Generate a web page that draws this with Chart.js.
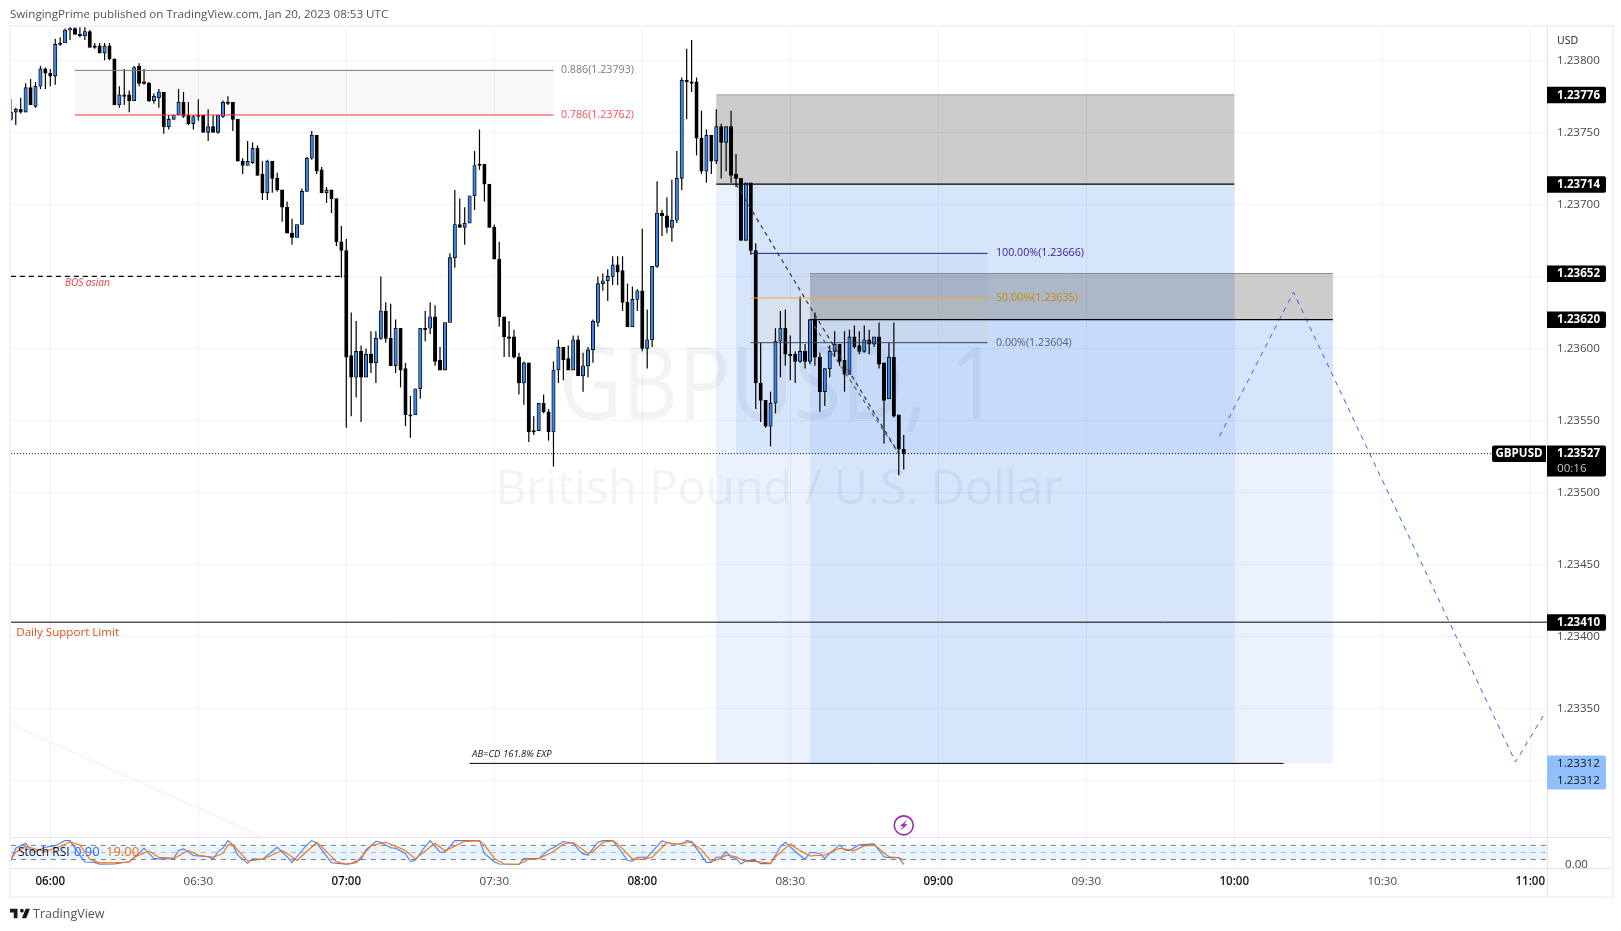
<!DOCTYPE html>
<html>
<head>
<meta charset="utf-8">
<title>GBPUSD 1</title>
<script src="https://cdn.jsdelivr.net/npm/chart.js@4"></script>
<style>
  html, body { margin: 0; padding: 0; background: #fff; width: 1621px; height: 931px; overflow: hidden; }
  body { font-family: "Open Sans", sans-serif; position: relative; }
  #frame { position: absolute; left: 9px; top: 25px; width: 1601px; height: 869px; border: 2px solid #f0f3fa; }
  #cv { position: absolute; left: 0; top: 0; }
  #pub { position: absolute; left: 10px; top: 6px; font-size: 11.6px; color: #50535e; white-space: nowrap; }
  #brand { position: absolute; left: 10px; top: 905px; color: #50535e; font-size: 12.5px; white-space: nowrap; }
  #brand svg { position: absolute; left: 0; top: 2px; }
  #brand span { position: absolute; left: 23px; top: 0; }
</style>
</head>
<body>
<div id="frame"></div>
<canvas id="cv" width="1621" height="931"></canvas>
<div id="pub">SwingingPrime published on TradingView.com, Jan 20, 2023 08:53 UTC</div>
<div id="brand">
  <svg width="20" height="13" viewBox="2 6 32 15"><path fill="#131722" d="M14 6H2v6h6v9h6V6zm14 15h-7l6-15h7l-6 15zm-7-9a3 3 0 1 0 0-6 3 3 0 0 0 0 6z"/></svg>
  <span>TradingView</span>
</div>
<script>
// -------------------------------------
// Candles, one per minute, x is minutes after 06:00
// -------------------------------------
const firstMinute = -8;

const open = [
  1.23759,1.23764,1.23766,1.23764,1.23781,1.23768,1.23782,1.23794,1.23791,1.23789,
  1.23812,1.23812,1.23821,1.23822,1.23818,1.23817,1.23820,1.23810,1.23810,1.23805,
  1.23810,1.23801,1.23769,1.23776,1.23776,1.23772,1.23796,1.23785,1.23784,1.23772,
  1.23774,1.23778,1.23754,1.23759,1.23762,1.23771,1.23762,1.23756,1.23762,1.23762,
  1.23750,1.23754,1.23750,1.23761,1.23771,1.23771,1.23759,1.23730,1.23727,1.23729,
  1.23739,1.23721,1.23708,1.23730,1.23718,1.23710,1.23698,1.23680,1.23677,1.23686,
  1.23709,1.23732,1.23748,1.23724,1.23708,1.23710,1.23704,1.23674,1.23668,1.23595,
  1.23580,1.23598,1.23580,1.23596,1.23590,1.23607,1.23626,1.23607,1.23588,1.23614,
  1.23586,1.23554,1.23554,1.23572,1.23614,1.23614,1.23622,1.23592,1.23585,1.23618,
  1.23663,1.23686,1.23684,1.23687,1.23706,1.23728,1.23728,1.23714,1.23684,1.23662,
  1.23622,1.23608,1.23608,1.23594,1.23576,1.23590,1.23543,1.23543,1.23562,1.23556,
  1.23542,1.23585,1.23601,1.23593,1.23585,1.23606,1.23581,1.23588,1.23599,1.23618,
  1.23645,1.23647,1.23650,1.23658,1.23654,1.23632,1.23615,1.23634,1.23640,1.23600,
  1.23606,1.23657,1.23694,1.23692,1.23684,1.23689,1.23718,1.23786,1.23785,1.23785,
  1.23746,1.23723,1.23748,1.23730,1.23754,1.23743,1.23754,1.23721,1.23718,1.23675,
  1.23715,1.23668,1.23576,1.23564,1.23546,1.23562,1.23605,1.23614,1.23596,1.23596,
  1.23591,1.23598,1.23591,1.23620,1.23594,1.23570,1.23586,1.23598,1.23603,1.23592,
  1.23582,1.23608,1.23602,1.23598,1.23606,1.23603,1.23608,1.23590,1.23565,1.23594,
  1.23554,1.23530
];
const high = [
  1.23773,1.23767,1.23774,1.23784,1.23787,1.23785,1.23796,1.23795,1.23794,1.23815,
  1.23816,1.23822,1.23823,1.23823,1.23823,1.23823,1.23821,1.23812,1.23812,1.23812,
  1.23812,1.23801,1.23782,1.23794,1.23779,1.23796,1.23798,1.23794,1.23785,1.23777,
  1.23780,1.23778,1.23762,1.23762,1.23780,1.23778,1.23771,1.23762,1.23773,1.23762,
  1.23766,1.23762,1.23762,1.23772,1.23775,1.23771,1.23759,1.23732,1.23744,1.23743,
  1.23741,1.23730,1.23731,1.23730,1.23722,1.23710,1.23702,1.23690,1.23686,1.23711,
  1.23733,1.23751,1.23748,1.23726,1.23712,1.23710,1.23704,1.23685,1.23676,1.23625,
  1.23619,1.23602,1.23600,1.23612,1.23612,1.23650,1.23632,1.23631,1.23620,1.23614,
  1.23590,1.23567,1.23572,1.23614,1.23626,1.23632,1.23630,1.23601,1.23618,1.23666,
  1.23710,1.23704,1.23698,1.23706,1.23737,1.23752,1.23728,1.23714,1.23686,1.23674,
  1.23622,1.23619,1.23613,1.23597,1.23591,1.23590,1.23553,1.23562,1.23568,1.23558,
  1.23591,1.23606,1.23601,1.23602,1.23609,1.23609,1.23597,1.23601,1.23620,1.23650,
  1.23652,1.23655,1.23664,1.23664,1.23664,1.23645,1.23643,1.23641,1.23683,1.23627,
  1.23657,1.23716,1.23696,1.23705,1.23717,1.23737,1.23788,1.23808,1.23814,1.23788,
  1.23765,1.23752,1.23748,1.23766,1.23756,1.23754,1.23765,1.23735,1.23718,1.23715,
  1.23715,1.23673,1.23604,1.23564,1.23570,1.23614,1.23626,1.23627,1.23609,1.23598,
  1.23636,1.23603,1.23620,1.23625,1.23597,1.23586,1.23602,1.23612,1.23603,1.23612,
  1.23613,1.23616,1.23612,1.23616,1.23613,1.23608,1.23618,1.23590,1.23604,1.23618,
  1.23554,1.23540
];
const low = [
  1.23758,1.23755,1.23763,1.23764,1.23769,1.23767,1.23780,1.23780,1.23782,1.23783,
  1.23810,1.23812,1.23814,1.23818,1.23816,1.23814,1.23809,1.23808,1.23805,1.23800,
  1.23800,1.23769,1.23767,1.23769,1.23764,1.23772,1.23782,1.23783,1.23771,1.23770,
  1.23767,1.23749,1.23752,1.23759,1.23762,1.23760,1.23755,1.23752,1.23758,1.23750,
  1.23744,1.23750,1.23749,1.23760,1.23769,1.23751,1.23730,1.23721,1.23727,1.23728,
  1.23720,1.23703,1.23703,1.23708,1.23709,1.23688,1.23680,1.23672,1.23677,1.23686,
  1.23709,1.23731,1.23721,1.23708,1.23701,1.23694,1.23671,1.23649,1.23545,1.23553,
  1.23566,1.23549,1.23580,1.23583,1.23576,1.23606,1.23604,1.23588,1.23583,1.23573,
  1.23546,1.23538,1.23554,1.23565,1.23605,1.23610,1.23588,1.23585,1.23585,1.23618,
  1.23656,1.23684,1.23672,1.23687,1.23696,1.23724,1.23702,1.23684,1.23662,1.23615,
  1.23594,1.23594,1.23593,1.23568,1.23561,1.23535,1.23540,1.23543,1.23555,1.23536,
  1.23518,1.23576,1.23578,1.23585,1.23585,1.23581,1.23570,1.23580,1.23590,1.23615,
  1.23640,1.23633,1.23644,1.23644,1.23626,1.23615,1.23615,1.23626,1.23598,1.23586,
  1.23601,1.23656,1.23678,1.23680,1.23674,1.23687,1.23710,1.23759,1.23778,1.23734,
  1.23721,1.23715,1.23721,1.23728,1.23718,1.23723,1.23715,1.23712,1.23675,1.23675,
  1.23665,1.23558,1.23549,1.23545,1.23532,1.23555,1.23580,1.23588,1.23578,1.23576,
  1.23590,1.23586,1.23589,1.23588,1.23556,1.23560,1.23580,1.23594,1.23588,1.23570,
  1.23582,1.23600,1.23596,1.23597,1.23596,1.23601,1.23586,1.23534,1.23565,1.23552,
  1.23512,1.23516
];
const close = [
  1.23764,1.23766,1.23764,1.23781,1.23769,1.23782,1.23794,1.23791,1.23789,1.23811,
  1.23811,1.23821,1.23822,1.23818,1.23817,1.23820,1.23809,1.23809,1.23805,1.23810,
  1.23801,1.23769,1.23776,1.23775,1.23772,1.23795,1.23784,1.23784,1.23772,1.23775,
  1.23778,1.23754,1.23759,1.23762,1.23771,1.23761,1.23756,1.23761,1.23761,1.23750,
  1.23754,1.23750,1.23762,1.23771,1.23770,1.23759,1.23730,1.23727,1.23730,1.23739,
  1.23720,1.23708,1.23730,1.23718,1.23710,1.23698,1.23680,1.23677,1.23686,1.23709,
  1.23732,1.23748,1.23723,1.23708,1.23710,1.23704,1.23674,1.23668,1.23594,1.23580,
  1.23598,1.23580,1.23596,1.23590,1.23607,1.23626,1.23607,1.23588,1.23614,1.23585,
  1.23554,1.23553,1.23572,1.23614,1.23613,1.23622,1.23591,1.23585,1.23618,1.23663,
  1.23686,1.23684,1.23687,1.23706,1.23727,1.23727,1.23714,1.23684,1.23662,1.23622,
  1.23608,1.23607,1.23594,1.23576,1.23590,1.23542,1.23542,1.23562,1.23556,1.23542,
  1.23585,1.23601,1.23592,1.23585,1.23606,1.23581,1.23588,1.23599,1.23619,1.23645,
  1.23647,1.23650,1.23658,1.23653,1.23632,1.23615,1.23634,1.23640,1.23600,1.23606,
  1.23657,1.23694,1.23692,1.23684,1.23689,1.23718,1.23786,1.23785,1.23784,1.23746,
  1.23723,1.23748,1.23730,1.23754,1.23743,1.23754,1.23720,1.23718,1.23675,1.23715,
  1.23668,1.23576,1.23564,1.23546,1.23562,1.23605,1.23614,1.23596,1.23595,1.23591,
  1.23598,1.23591,1.23620,1.23594,1.23570,1.23586,1.23598,1.23603,1.23591,1.23582,
  1.23608,1.23601,1.23598,1.23606,1.23603,1.23608,1.23589,1.23564,1.23594,1.23553,
  1.23530,1.23527
];

// -------------------------------------
// Stoch RSI, turning points
// -------------------------------------
const stochKMinutes = [-8,-7,-5,-4,-3,-1,1,3,4,6,7,9,10,13,16,18,19,21,22,25,26,27,29,32,33,34,35,36,37,38,40,41,43,46,48,49,50,52,53,54,57,60,61,63,64,66,67,69,70,72,73,74,76,77,79,80,82,87,
  88,90,91,95,96,99,101,102,104,106,107,108,109,111,112,114,115,117,118,119,121,122,124,126,128,129,130,133,134,135,136,137,138,139,140,141,143,144,146,148,149,151,153,154,156,157,158,160,161,162,164,167,169,170,172,173];
const stochK = [18,68,89,61,54,72,78,100,100,39,10,8,0,1,11,46,68,25,23,24,58,65,37,32,21,54,68,100,82,39,4,23,21,72,32,7,32,82,100,89,7,0,4,21,61,97,93,70,68,46,11,18,75,100,51,51,100,100,
  46,11,1,0,24,24,61,70,96,89,63,44,39,93,100,100,75,16,13,30,30,54,99,86,86,100,96,8,8,30,30,54,30,25,1,16,16,3,3,75,93,54,21,51,46,25,46,82,61,58,82,86,32,28,28,0];
const stochDMinutes = [-8,-7,-5,-3,-1,2,4,6,8,10,13,16,17,20,22,25,28,30,33,35,36,37,40,43,47,48,50,52,54,55,58,60,62,65,68,72,74,78,80,84,87,
  88,90,92,95,97,99,102,104,106,109,110,112,114,115,118,120,122,125,127,130,132,134,136,137,139,141,143,146,147,150,151,154,157,160,163,165,167,170,172,173];
const stochD = [21,51,75,65,54,75,94,82,21,6,6,10,30,56,30,25,58,38,30,46,82,82,14,21,58,46,16,54,92,75,11,0,7,78,93,58,23,89,56,97,100,
  82,25,1,0,21,24,54,86,92,46,54,92,100,86,23,21,30,92,86,93,61,11,25,39,32,11,13,4,32,86,70,35,39,68,58,78,82,32,28,18];
const stochBand = [20, 80];
const stochMid = 50;

// -------------------------------------
// Things drawn on the chart: [x from, x to, price from, price to]
// -------------------------------------
const fibBox = [5, 102, 1.23793, 1.23762];
const stopBoxes = [[135, 240, 1.23776, 1.23714], [154, 260, 1.23652, 1.23620]];
const targetBoxes = [
  [135, 240, 1.23714, 1.23312],
  [139, 240, 1.23714, 1.23527],
  [154, 260, 1.23620, 1.23312],
  [240, 260, 1.23620, 1.23527]
];
const fibUpperTint = [142, 190, 1.23666, 1.23635];
const fibLowerTint = [142, 190, 1.23635, 1.23604];

const line886 = [[5, 1.23793], [102, 1.23793]];
const line786 = [[5, 1.23762], [102, 1.23762]];
const bosLine = [[-8, 1.23650], [60, 1.23650]];
const stopTopA = [[135, 1.23776], [240, 1.23776]];
const entryA = [[135, 1.23714], [240, 1.23714]];
const stopTopB = [[154, 1.23652], [260, 1.23652]];
const entryB = [[154, 1.23620], [260, 1.23620]];
const fib100 = [[142, 1.23666], [190, 1.23666]];
const fib50 = [[142, 1.23635], [190, 1.23635]];
const fib0 = [[142, 1.23604], [190, 1.23604]];
const supportLine = [[-8, 1.23410], [304, 1.23410]];
const abcdLine = [[85, 1.23312], [250, 1.23312]];
const lastPriceLine = [[-8, 1.23527], [292, 1.23527]];
const tradeLineA = [[139, 1.23714], [172, 1.23527]];
const tradeLineB = [[154, 1.23620], [172, 1.23527]];
const pathLine = [[237, 1.23539], [252, 1.23639], [297, 1.23313], [303, 1.23347]];
const faintLine = [[-8, 1.23339], [43, 1.23261]];

const axisPrices = [1.23776, 1.23714, 1.23652, 1.23620, 1.23410];
const lastPrice = 1.23527;
const countdown = "00:16";
const targetPrice = 1.23312;
const alertPoint = [173, 1.23269];

// -------------------------------------
// Small helpers
// -------------------------------------
const FONT = '"Open Sans", sans-serif';

function hhmm(m) {
  const t = 360 + m;
  return String(Math.floor(t / 60)).padStart(2, "0") + ":" + String(t % 60).padStart(2, "0");
}

function xy(pts) {
  return pts.map(p => ({ x: p[0], y: p[1] }));
}

function lineSet(pts, color, width, dash, axis, order) {
  return {
    type: "line",
    data: xy(pts),
    yAxisID: axis || "y",
    borderColor: color,
    borderWidth: width,
    borderDash: dash || [],
    pointRadius: 0,
    tension: 0,
    fill: false,
    order: order || 5
  };
}

const wicks = low.map((v, i) => ({ x: firstMinute + i, y: [v, high[i]] }));
const bodies = open.map((v, i) => ({ x: firstMinute + i, y: [v, close[i]] }));
const stochKPts = stochK.map((v, i) => [stochKMinutes[i], v]);
const stochDPts = stochD.map((v, i) => [stochDMinutes[i], v]);

function box(ctx, chart, b, yId) {
  const x = chart.scales.x, y = chart.scales[yId || "y"];
  const x0 = x.getPixelForValue(b[0]), x1 = x.getPixelForValue(b[1]);
  const y0 = y.getPixelForValue(b[2]), y1 = y.getPixelForValue(b[3]);
  ctx.fillRect(x0, y0, x1 - x0, y1 - y0);
}

function text(ctx, s, x, y, font, color, align, maxW) {
  ctx.font = font;
  ctx.fillStyle = color;
  ctx.textAlign = align || "left";
  ctx.textBaseline = "middle";
  if (maxW) ctx.fillText(s, x, y, maxW);
  else ctx.fillText(s, x, y);
}

function badge(ctx, x, y, w, h, fill) {
  ctx.fillStyle = fill;
  ctx.beginPath();
  ctx.roundRect(x, y, w, h, [0, 2, 2, 0]);
  ctx.fill();
}

// -------------------------------------
// Watermark and filled boxes go under the candles
// -------------------------------------
const underPlugin = {
  id: "under",
  beforeDatasetsDraw(chart) {
    const ctx = chart.ctx, a = chart.chartArea, y = chart.scales.y;
    ctx.save();
    const cx = (a.left + a.right) / 2;
    text(ctx, "GBPUSD, 1", cx, y.getPixelForValue(1.23571), "100px " + FONT, "rgba(42,46,57,0.06)", "center", 440);
    text(ctx, "British Pound / U.S. Dollar", cx, y.getPixelForValue(1.23501), "47px " + FONT, "rgba(42,46,57,0.06)", "center");

    ctx.fillStyle = "rgba(120,123,134,0.05)";
    box(ctx, chart, fibBox);
    ctx.fillStyle = "rgba(35,105,235,0.095)";
    targetBoxes.forEach(b => box(ctx, chart, b));
    ctx.fillStyle = "rgba(0,0,0,0.2)";
    stopBoxes.forEach(b => box(ctx, chart, b));
    ctx.fillStyle = "rgba(49,27,146,0.035)";
    box(ctx, chart, fibUpperTint);
    ctx.fillStyle = "rgba(240,176,48,0.06)";
    box(ctx, chart, fibLowerTint);

    ctx.fillStyle = "rgba(33,150,243,0.1)";
    box(ctx, chart, [chart.scales.x.min, chart.scales.x.max, stochBand[1], stochBand[0]], "y2");
    ctx.restore();
  }
};

// -------------------------------------
// Labels, axis badges and the alert icon go on top
// -------------------------------------
const overPlugin = {
  id: "over",
  afterDraw(chart) {
    const ctx = chart.ctx, x = chart.scales.x, y = chart.scales.y, y2 = chart.scales.y2;
    const px = v => x.getPixelForValue(v), py = v => y.getPixelForValue(v);
    const a = chart.chartArea;
    ctx.save();

    // line between the two panes
    ctx.strokeStyle = "#e0e3eb";
    ctx.lineWidth = 1;
    ctx.beginPath();
    ctx.moveTo(a.left, y2.top + 0.5);
    ctx.lineTo(chart.width - 10, y2.top + 0.5);
    ctx.moveTo(a.right + 0.5, y.top);
    ctx.lineTo(a.right + 0.5, y2.bottom + 28);
    ctx.moveTo(a.left, y2.bottom + 0.5);
    ctx.lineTo(chart.width - 10, y2.bottom + 0.5);
    ctx.stroke();

    const f11 = "10.7px " + FONT;
    text(ctx, "0.886(1.23793)", px(103.5), py(1.23793), f11, "#787b86");
    text(ctx, "0.786(1.23762)", px(103.5), py(1.23762), f11, "#f7525f");
    text(ctx, "100.00%(1.23666)", px(191.7), py(1.23666), f11, "#311b92");
    text(ctx, "50.00%(1.23635)", px(191.7), py(1.23635), f11, "#c98a00");
    text(ctx, "0.00%(1.23604)", px(191.7), py(1.23604), f11, "#5d606b");
    text(ctx, "BOS asian", px(7.5), py(1.23645), "italic 10px " + FONT, "#f23645", "center");
    text(ctx, "Daily Support Limit", px(-6.9), py(1.23403), "11.6px " + FONT, "#e0501a");
    text(ctx, "AB=CD 161.8% EXP", px(85.5), py(1.23318), "italic 9.5px " + FONT, "#131722");

    // stoch legend
    const ly = y2.getPixelForValue(stochMid);
    text(ctx, "Stoch RSI", 18, ly, "12px " + FONT, "#131722");
    text(ctx, "0.90", 74, ly, "13px " + FONT, "#2962ff");
    text(ctx, "19.00", 106, ly, "13px " + FONT, "#ff6d00");

    // alert icon
    const ix = px(alertPoint[0]), iy = py(alertPoint[1]);
    ctx.strokeStyle = "#9c27b0";
    ctx.lineWidth = 1.6;
    ctx.beginPath();
    ctx.arc(ix, iy, 9.5, 0, Math.PI * 2);
    ctx.stroke();
    ctx.fillStyle = "#9c27b0";
    ctx.beginPath();
    ctx.moveTo(ix + 3.5, iy - 5.5);
    ctx.lineTo(ix - 4, iy + 1);
    ctx.lineTo(ix - 0.5, iy + 1);
    ctx.lineTo(ix - 3.5, iy + 5.5);
    ctx.lineTo(ix + 4, iy - 1);
    ctx.lineTo(ix + 0.5, iy - 1);
    ctx.closePath();
    ctx.fill();

    // badges on the price axis
    const bx = a.right, bw = 59, tx = a.right + 10;
    const boldFont = "bold 11.6px " + FONT;
    text(ctx, "USD", tx, 41, "10.5px " + FONT, "#131722");
    axisPrices.forEach(p => {
      const c = py(p);
      badge(ctx, bx, c - 8, bw, 16.5, "#000");
      text(ctx, p.toFixed(5), tx, c + 0.5, boldFont, "#fff");
    });

    const lc = py(lastPrice);
    badge(ctx, bx, lc - 8, bw, 31, "#000");
    text(ctx, lastPrice.toFixed(5), tx, lc + 0.5, boldFont, "#fff");
    text(ctx, countdown, tx, lc + 15, "11.6px " + FONT, "#c8c8c8");
    ctx.fillStyle = "#000";
    ctx.beginPath();
    ctx.roundRect(bx - 55, lc - 8, 54, 16.5, [2, 0, 0, 2]);
    ctx.fill();
    text(ctx, "GBPUSD", bx - 28, lc + 0.5, boldFont, "#fff", "center");

    const tc = py(targetPrice);
    badge(ctx, bx, tc - 8, bw, 34, "#90bff9");
    text(ctx, targetPrice.toFixed(5), tx, tc + 0.5, "11.6px " + FONT, "#131722");
    text(ctx, targetPrice.toFixed(5), tx, tc + 17.5, "11.6px " + FONT, "#131722");
    ctx.restore();
  }
};

// -------------------------------------
// Chart
// -------------------------------------
new Chart(document.getElementById("cv"), {
  type: "bar",
  data: {
    datasets: [
      { data: wicks, yAxisID: "y", backgroundColor: "#000", barThickness: 1.2, grouped: false, order: 11, inflateAmount: 0 },
      {
        data: bodies,
        yAxisID: "y",
        barThickness: 3.4,
        grouped: false,
        order: 10,
        borderWidth: 0.9,
        borderColor: "#000",
        borderSkipped: false,
        backgroundColor: c => (c.raw && c.raw.y[1] >= c.raw.y[0] ? "#3d85ee" : "#000")
      },
      lineSet(faintLine, "#ebedf1", 1),
      lineSet(line886, "#787b86", 1),
      lineSet(line786, "#f23645", 1),
      lineSet(bosLine, "#000", 1.2, [5, 4]),
      lineSet(stopTopA, "#9e9e9e", 1),
      lineSet(entryA, "#000", 1.2),
      lineSet(stopTopB, "#8c8c8c", 1),
      lineSet(entryB, "#000", 1.2),
      lineSet(fib100, "#1a237e", 1),
      lineSet(fib50, "#f0b030", 1),
      lineSet(fib0, "#3c4656", 1),
      lineSet(supportLine, "#000", 1),
      lineSet(abcdLine, "#000", 1),
      lineSet(lastPriceLine, "#000", 1, [1, 2]),
      lineSet(tradeLineA, "#30343c", 1.2, [4, 4]),
      lineSet(tradeLineB, "#5a5f6a", 1.2, [4, 4]),
      lineSet(pathLine, "#2962ff", 1, [5, 5]),
      lineSet([[-8, stochBand[1]], [304, stochBand[1]]], "#787b86", 1, [5, 5], "y2"),
      lineSet([[-8, stochMid], [304, stochMid]], "rgba(120,123,134,0.5)", 1, [5, 5], "y2"),
      lineSet([[-8, stochBand[0]], [304, stochBand[0]]], "#787b86", 1, [5, 5], "y2"),
      lineSet(stochKPts, "#4a7ffb", 1.1, [], "y2", 2),
      lineSet(stochDPts, "#ff6d00", 1.1, [], "y2", 1)
    ]
  },
  plugins: [underPlugin, overPlugin],
  options: {
    responsive: false,
    animation: false,
    events: [],
    layout: { padding: { left: 11, top: 27, right: 10, bottom: 35 } },
    plugins: { legend: { display: false }, tooltip: { enabled: false } },
    scales: {
      x: {
        type: "linear",
        offset: false,
        min: -7.967,
        max: 303.4,
        grid: { offset: false, color: "#f0f3fa", lineWidth: 1, drawTicks: false },
        border: { display: false },
        afterFit: s => { s.height = 28; },
        ticks: {
          stepSize: 30,
          includeBounds: false,
          autoSkip: false,
          maxRotation: 0,
          padding: 7,
          color: c => (c.tick.value % 60 === 0 ? "#131722" : "#434651"),
          font: c => ({ family: FONT, size: 11.6, weight: c.tick && c.tick.value % 60 === 0 ? "600" : "400" }),
          callback: v => hhmm(v)
        }
      },
      y: {
        position: "right",
        stack: "panes",
        stackWeight: 810,
        weight: 1,
        min: 1.232609,
        max: 1.238231,
        afterFit: s => { s.width = 64; },
        grid: { color: "#f0f3fa", lineWidth: 1, drawTicks: false },
        border: { display: false },
        ticks: {
          stepSize: 0.0005,
          includeBounds: false,
          padding: 10,
          color: "#434651",
          font: { family: FONT, size: 11.6 },
          callback: v => v.toFixed(5)
        }
      },
      y2: {
        position: "right",
        stack: "panes",
        stackWeight: 31,
        weight: 2,
        min: -15.6,
        max: 115.3,
        afterFit: s => { s.width = 64; },
        grid: { display: false },
        border: { display: false },
        ticks: {
          stepSize: 100,
          includeBounds: false,
          padding: 10,
          color: "#434651",
          font: { family: FONT, size: 11.6 },
          callback: v => (v === 0 ? "0.00" : "")
        }
      }
    }
  }
});
</script>
</body>
</html>
